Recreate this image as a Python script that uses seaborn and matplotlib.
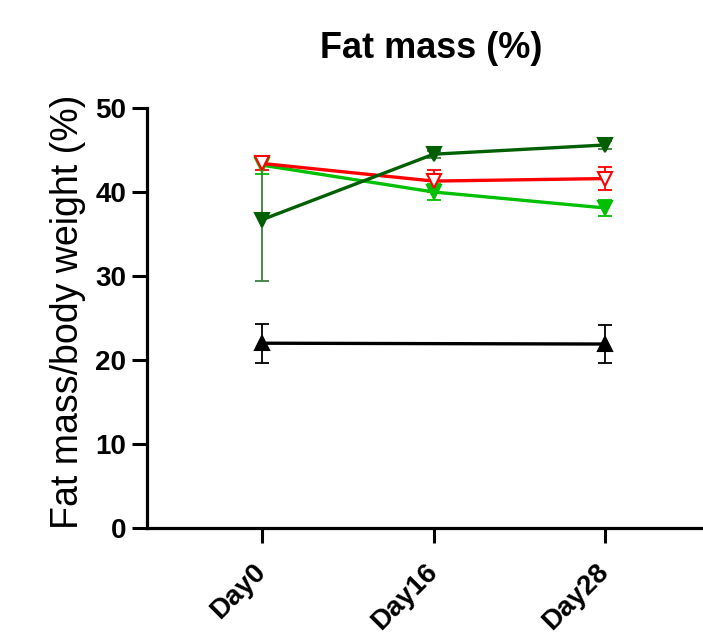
import numpy as np
import pandas as pd
import matplotlib
matplotlib.use("Agg")
import matplotlib.pyplot as plt
import seaborn as sns

days = ["Day0", "Day16", "Day28"]
groups = ["Black", "LightGreen", "Red", "DarkGreen"]
black_mean = [22.0, np.nan, 21.9]
black_sd = [2.3, np.nan, 2.3]
lgreen_mean = [43.2, 40.0, 38.1]
lgreen_sd = [1.0, 1.0, 1.0]
red_mean = [43.4, 41.3, 41.6]
red_sd = [0.8, 1.3, 1.4]
dgreen_mean = [36.7, 44.5, 45.6]
dgreen_sd = [7.3, 0.4, 0.5]
yticks = [0, 10, 20, 30, 40, 50]

colors = {"Black": "#000000", "LightGreen": "#00C000", "Red": "#FF0000", "DarkGreen": "#005F00"}
err_colors = {"Black": "#000000", "LightGreen": "#00C000", "Red": "#FF0000", "DarkGreen": "#3C7F3C"}
markers = {"Black": "^", "LightGreen": "v", "Red": "v", "DarkGreen": "v"}
means = {"Black": black_mean, "LightGreen": lgreen_mean, "Red": red_mean, "DarkGreen": dgreen_mean}
sds = {"Black": black_sd, "LightGreen": lgreen_sd, "Red": red_sd, "DarkGreen": dgreen_sd}

rows = []
for g in groups:
    for i, d in enumerate(days):
        rows.append({"group": g, "x": i, "mean": means[g][i], "sd": sds[g][i]})
df = pd.DataFrame(rows)

sns.set_style("ticks")
plt.rcParams["font.family"] = ["Liberation Sans", "DejaVu Sans"]
plt.rcParams["text.color"] = "black"
plt.rcParams["axes.labelcolor"] = "black"
plt.rcParams["xtick.color"] = "black"
plt.rcParams["ytick.color"] = "black"
plt.rcParams["axes.edgecolor"] = "black"

fig = plt.figure(figsize=(7.03, 6.42), dpi=100)
ax = fig.add_axes([147/703, 1 - 528/642, 1 - 147/703, (528 - 108)/642])

for zi, g in enumerate(groups):
    sub = df[df["group"] == g].dropna()
    ax.errorbar(sub["x"], sub["mean"], yerr=sub["sd"], fmt="none",
                ecolor=err_colors[g], elinewidth=1.3, capsize=5, capthick=1.3, zorder=2 + zi)
    face = "white" if g == "Red" else colors[g]
    sns.lineplot(data=sub, x="x", y="mean", ax=ax, color=colors[g], linewidth=2.4,
                 marker=markers[g], markersize=10, markerfacecolor=face,
                 markeredgecolor=colors[g], markeredgewidth=1.5, zorder=6 + zi,
                 errorbar=None, legend=False)

ax.set_xlim(-0.67, 2.57)
ax.set_ylim(0, 50)
ax.set_yticks(yticks)
ax.set_yticklabels([str(t) for t in yticks], fontsize=20, fontweight="bold")
ax.set_xticks(range(len(days)))
ax.set_xticklabels(days, fontsize=20, fontweight="bold", rotation=45, ha="right",
                   va="center", rotation_mode="anchor")
ax.tick_params(axis="both", length=11, width=2.2, pad=4, colors="black")
ax.tick_params(axis="x", length=11, pad=18)
for s in ["left", "bottom"]:
    ax.spines[s].set_linewidth(2.3)
    ax.spines[s].set_color("black")
sns.despine(ax=ax)
ax.set_xlabel("")
ax.set_ylabel("Fat mass/body weight (%)", fontsize=27)
ax.yaxis.set_label_coords(-0.110, 0.514)
ax.set_title("Fat mass (%)", fontsize=26, fontweight="bold", pad=36, x=0.511)

fig.savefig("out.png", dpi=100)
